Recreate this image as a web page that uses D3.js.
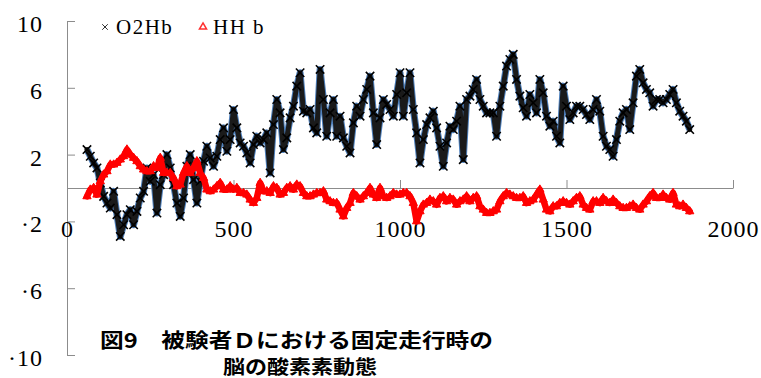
<!DOCTYPE html>
<html>
<head>
<meta charset="utf-8">
<script src="https://cdn.jsdelivr.net/npm/d3@7"></script>
<style>
  html, body { margin: 0; padding: 0; background: #fff; }
  svg { display: block; }
</style>
</head>
<body>
<svg id="chart" width="761" height="378"></svg>
<script>
// Sampling: one reading every 10 time units, from t = 60 to t = 1870
const startTime = 60;
const sampleStep = 10;

// Oxygenated haemoglobin (O2Hb)
const o2hb = [
  2.3, 1.9, 1.5, 1.2, 0.3, -0.5, -0.9, -1.2, -0.2, -1.6,
  -2.9, -2.2, -1.6, -1.3, -2.2, -1.4, -0.6, -0.2, 1.2, 0.4,
  0.8, -1.5, 0.2, 0.8, 2.0, 1.2, 0.2, -0.9, -1.7, -0.6,
  1.3, 2.0, 0.5, -0.9, 0.4, 1.6, 2.5, 1.8, 1.3, 1.9,
  2.9, 3.6, 2.2, 2.9, 4.7, 3.6, 2.7, 2.5, 2.1, 1.5,
  2.6, 3.1, 2.7, 2.9, 3.3, 0.9, 3.8, 5.3, 4.5, 2.3,
  3.0, 4.2, 4.9, 6.1, 6.9, 4.6, 4.5, 4.7, 3.6, 3.3,
  7.1, 5.3, 3.1, 4.5, 5.3, 3.1, 4.3, 3.0, 2.5, 2.1,
  3.9, 4.9, 4.3, 5.3, 5.9, 6.7, 4.5, 2.6, 4.2, 5.3,
  5.0, 4.7, 4.3, 5.6, 6.9, 4.3, 5.7, 6.9, 4.7, 3.3,
  1.5, 2.9, 3.8, 4.2, 4.6, 3.6, 2.5, 1.3, 2.7, 3.7,
  3.5, 4.0, 4.9, 1.7, 5.3, 5.5, 5.9, 6.5, 5.3, 4.9,
  4.5, 4.5, 4.5, 3.1, 4.9, 6.1, 7.3, 7.7, 8.0, 6.5,
  5.5, 4.8, 4.3, 5.6, 5.1, 4.5, 6.5, 5.7, 4.3, 3.7,
  4.0, 3.1, 2.7, 6.1, 4.9, 4.1, 4.5, 4.9, 4.9, 4.7,
  4.4, 4.1, 4.7, 5.3, 4.6, 3.1, 2.5, 2.3, 1.9, 2.9,
  4.0, 4.5, 4.7, 3.5, 5.1, 6.7, 7.1, 6.3, 5.9, 5.7,
  4.9, 5.3, 5.3, 5.1, 5.3, 5.6, 5.9, 5.1, 4.6, 4.3,
  4.0, 3.5
];

// Deoxygenated haemoglobin (HHb)
const hhb = [
  -0.5, -0.1, 0.0, -0.4, 0.4, 0.8, 1.0, 1.4, 1.4, 1.5,
  1.7, 1.9, 2.3, 2.0, 1.8, 1.6, 1.3, 1.1, 1.0, 1.0,
  1.3, 1.2, 1.8, 0.9, 0.9, 0.9, 0.6, 0.1, 0.2, 0.9,
  1.3, 0.9, 1.2, 1.6, 0.9, 0.6, -0.1, -0.2, -0.1, 0.1,
  0.3, -0.1, -0.1, 0.1, -0.1, 0.0, -0.3, -0.3, -0.4, -0.7,
  -0.9, -0.6, 0.3, -0.2, -0.2, -0.3, 0.1, 0.0, -0.4, -0.3,
  0.0, 0.1, -0.1, 0.2, 0.1, -0.3, -0.5, -0.5, -0.4, -0.3,
  -0.3, -0.2, -0.7, -0.8, -0.9, -0.9, -1.3, -1.7, -1.2, -0.9,
  -0.3, -0.5, -0.7, -0.5, -0.3, 0.0, -0.4, -0.6, 0.0, -0.5,
  -0.6, -0.5, -0.3, -0.4, -0.4, -0.3, -0.3, -0.5, -0.9, -2.0,
  -1.4, -1.0, -0.9, -0.7, -0.8, -1.0, -0.6, -0.5, -0.8, -0.6,
  -0.7, -1.0, -0.8, -0.7, -0.5, -0.8, -0.6, -0.5, -1.1, -1.3,
  -1.5, -1.5, -1.4, -1.3, -0.8, -0.5, -0.3, -0.4, -0.5, -0.6,
  -0.6, -0.5, -0.9, -0.8, -0.7, -0.4, -0.1, -0.7, -1.3, -1.4,
  -1.1, -1.1, -0.9, -0.8, -0.9, -1.0, -0.8, -0.6, -0.5, -1.0,
  -1.2, -1.3, -0.8, -0.8, -0.9, -0.6, -0.8, -0.9, -0.7, -0.9,
  -1.1, -1.2, -1.2, -1.1, -1.0, -1.2, -1.3, -1.0, -0.8, -0.5,
  -0.3, -0.6, -0.6, -0.4, -0.6, -0.7, -0.3, -1.0, -1.1, -1.0,
  -1.2, -1.4
];

const xTicks = [0, 500, 1000, 1500, 2000];
const yTicks = [-10, -6, -2, 2, 6, 10];
const seriesNames = ["O2Hb", "HH b"];
const captionLines = ["図9　被験者Ｄにおける固定走行時の", "脳の酸素素動態"];

const times = o2hb.map((_, i) => startTime + i * sampleStep);
const o2Points = times.map((t, i) => ({ t, v: o2hb[i] }));
const hhPoints = times.map((t, i) => ({ t, v: hhb[i] }));

const svg = d3.select("#chart");
const x = d3.scaleLinear().domain([0, 2000]).range([67, 733]);
const y = d3.scaleLinear().domain([-10, 10]).range([355, 21]);

const axisColor = "#8c8c8c";
const serif = "'Liberation Serif', 'DejaVu Serif', serif";
const fmt = d => (d < 0 ? "·" + Math.abs(d) : String(d));

// Vertical axis: ticks point into the plot, labels on the left
const yAxis = svg.append("g")
  .attr("transform", `translate(${x(0)},0)`)
  .call(d3.axisLeft(y).tickValues(yTicks).tickSizeInner(-8).tickSizeOuter(0)
    .tickPadding(24).tickFormat(fmt));
yAxis.select(".domain").attr("stroke", axisColor);
yAxis.selectAll(".tick line").attr("stroke", axisColor);
yAxis.selectAll(".tick text")
  .attr("dy", "10.5px")
  .attr("fill", "#000")
  .style("font-family", serif)
  .style("font-size", "24px")
  .style("letter-spacing", "1px");

// Horizontal axis crossing at zero, ticks pointing up
const xAxis = svg.append("g")
  .attr("transform", `translate(0,${y(0)})`)
  .call(d3.axisBottom(x).tickValues(xTicks).tickSizeInner(-8).tickSizeOuter(0)
    .tickPadding(32).tickFormat(d3.format("d")));
xAxis.select(".domain").attr("stroke", axisColor);
xAxis.selectAll(".tick line").attr("stroke", axisColor);
xAxis.selectAll(".tick text")
  .attr("dy", "0.71em")
  .attr("fill", "#000")
  .style("font-family", serif)
  .style("font-size", "24px")
  .style("letter-spacing", "1px");

const line = d3.line().x(d => x(d.t)).y(d => y(d.v));

// O2Hb: dark band of cross markers over its connecting line
svg.append("path")
  .datum(o2Points)
  .attr("fill", "none")
  .attr("stroke", "#4f81bd")
  .attr("stroke-width", 7)
  .attr("stroke-linejoin", "round")
  .attr("d", line);
svg.append("path")
  .datum(o2Points)
  .attr("fill", "none")
  .attr("stroke", "#1a1a1a")
  .attr("stroke-width", 5)
  .attr("stroke-linejoin", "round")
  .attr("stroke-linecap", "round")
  .attr("d", line);

const cross = d3.symbol().type(d3.symbolX).size(48);
svg.append("g").selectAll("path")
  .data(o2Points)
  .join("path")
  .attr("transform", d => `translate(${x(d.t)},${y(d.v)})`)
  .attr("d", cross)
  .attr("fill", "none")
  .attr("stroke", "#000")
  .attr("stroke-width", 1.6);

// HHb: thick red trace with triangle markers
svg.append("path")
  .datum(hhPoints)
  .attr("fill", "none")
  .attr("stroke", "#ff0000")
  .attr("stroke-width", 6.5)
  .attr("stroke-linejoin", "round")
  .attr("stroke-linecap", "round")
  .attr("d", line);
const tri = d3.symbol().type(d3.symbolTriangle).size(30);
svg.append("g").selectAll("path")
  .data(hhPoints)
  .join("path")
  .attr("transform", d => `translate(${x(d.t)},${y(d.v)})`)
  .attr("d", tri)
  .attr("fill", "#ff0000")
  .attr("stroke", "#ff0000")
  .attr("stroke-width", 1);

// Legend
const legend = svg.append("g");
legend.append("path")
  .attr("transform", "translate(105,27)")
  .attr("d", d3.symbol().type(d3.symbolX).size(22))
  .attr("fill", "none").attr("stroke", "#333").attr("stroke-width", 1);
legend.append("text")
  .attr("x", 116).attr("y", 34)
  .style("font-family", serif).style("font-size", "21px").style("letter-spacing", "1.5px")
  .text(seriesNames[0]);
legend.append("path")
  .attr("transform", "translate(203,27)")
  .attr("d", d3.symbol().type(d3.symbolTriangle).size(22))
  .attr("fill", "#fff").attr("stroke", "#ff3030").attr("stroke-width", 1.5);
legend.append("text")
  .attr("x", 213).attr("y", 34)
  .style("font-family", serif).style("font-size", "21px").style("letter-spacing", "1.5px")
  .attr("xml:space", "preserve")
  .text(seriesNames[1]);

// Figure caption
const cjk = "'Noto Sans CJK JP', 'Noto Sans CJK SC', sans-serif";
svg.append("text")
  .attr("x", 100).attr("y", 348)
  .attr("textLength", 393).attr("lengthAdjust", "spacingAndGlyphs")
  .style("font-family", cjk).style("font-size", "20px").style("font-weight", "bold")
  .text(captionLines[0]);
svg.append("text")
  .attr("x", 223).attr("y", 374)
  .attr("textLength", 154).attr("lengthAdjust", "spacingAndGlyphs")
  .style("font-family", cjk).style("font-size", "19px").style("font-weight", "bold")
  .text(captionLines[1]);
</script>
</body>
</html>
